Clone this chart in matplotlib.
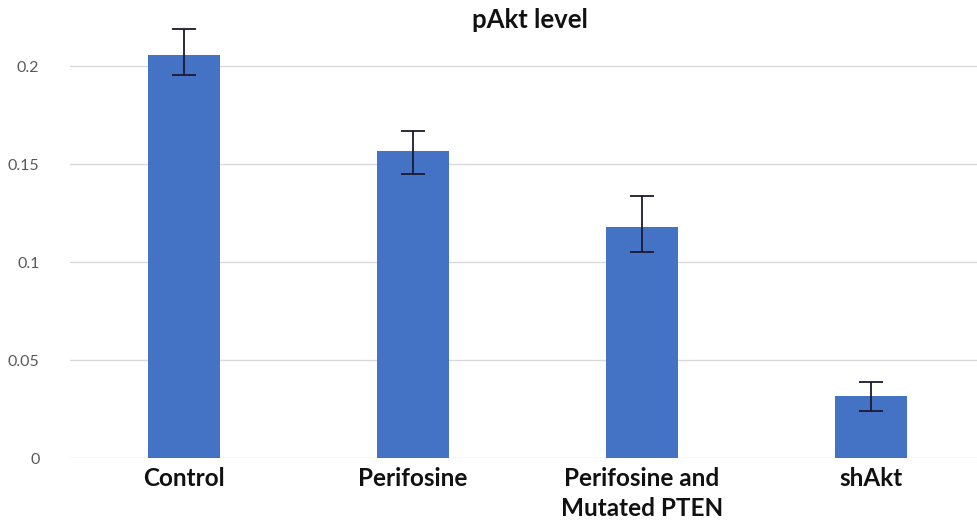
import matplotlib.pyplot as plt
import numpy as np

plt.rcParams['font.family'] = ['Lato', 'DejaVu Sans']

groups = ['Control', 'Perifosine', 'Perifosine and\nMutated PTEN', 'shAkt']
values = [0.2056, 0.1567, 0.1181, 0.0320]
err_low = [0.1954, 0.1450, 0.1052, 0.0242]
err_high = [0.2189, 0.1669, 0.1338, 0.0391]
yticks = [0, 0.05, 0.1, 0.15, 0.2]
ytick_labels = ['0', '0.05', '0.1', '0.15', '0.2']

fig = plt.figure(figsize=(9.77, 5.29), dpi=100)
ax = fig.add_axes([0.0717, 0.1333, 0.9283, 0.816])

x = np.arange(len(groups))
vals = np.array(values)
yerr = [vals - np.array(err_low), np.array(err_high) - vals]

ax.bar(x, vals, width=0.314, color='#4472C4', zorder=2)
ax.errorbar(x, vals, yerr=yerr, fmt='none', ecolor='#1a1a2e', elinewidth=1.3,
            capsize=8.6, capthick=1.3, zorder=3)

ax.set_xlim(-0.498, 3.463)
ax.set_ylim(0, 0.22)
ax.set_yticks(yticks)
ax.set_yticklabels(ytick_labels)
ax.yaxis.grid(True, color='#d9d9d9', linewidth=1, zorder=0)
ax.set_axisbelow(True)
for s in ax.spines.values():
    s.set_visible(False)
ax.tick_params(axis='y', length=0, pad=22, labelsize=11.5, labelcolor='#595959')
ax.tick_params(axis='x', length=0, pad=6)
ax.set_xticks(x)
ax.set_xticklabels(groups, fontsize=17.5, fontweight='bold', color='#111111',
                   va='top', linespacing=1.4)

fig.text(0.542, 0.962, 'pAkt level', ha='center', va='center',
         fontsize=18.5, fontweight='bold', color='#111111')

fig.savefig('out.png', dpi=100)
